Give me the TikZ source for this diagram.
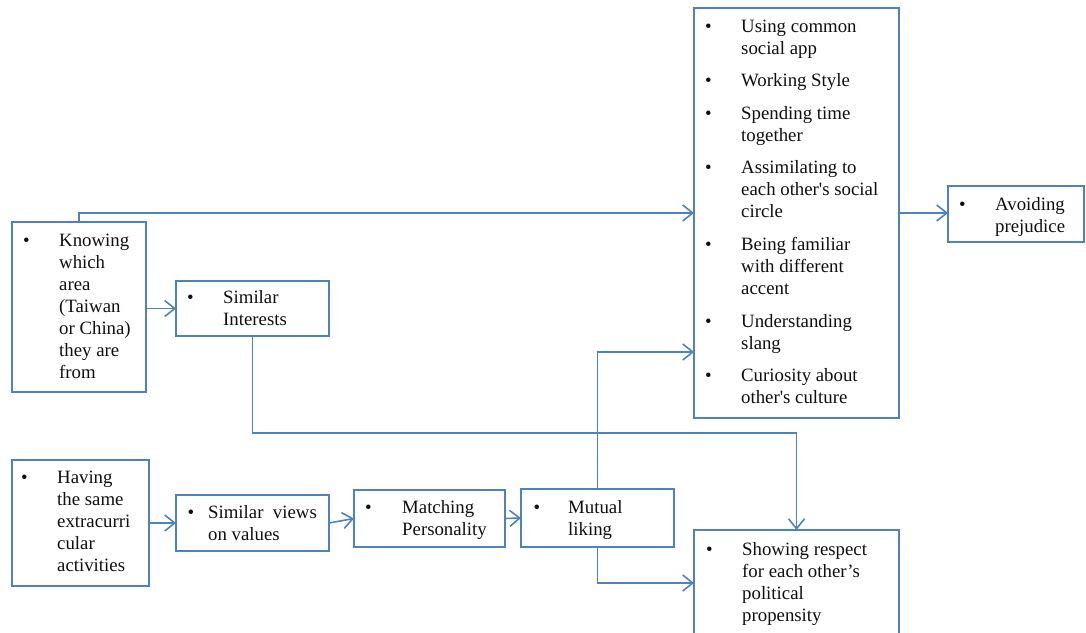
\documentclass[tikz,border=0pt]{standalone}
\usepackage{fontspec}
\setmainfont{Liberation Serif}[Ligatures=TeXOff]
\usetikzlibrary{arrows.meta}

\definecolor{edge}{RGB}{79,129,189}
\definecolor{ink}{RGB}{15,15,15}

% bullet hung in the left margin of an item
\newcommand{\bul}[1][29.5pt]{\leavevmode\llap{\textbullet\hspace{#1}}}
% item text block, first baseline on the node's base anchor
\newcommand{\itemtext}[1]{\parbox[t]{230pt}{\raggedright\setlength{\parskip}{10.4pt}#1}}

\tikzset{
  box/.style={draw=edge, line width=1.7pt, inner sep=0pt, outer sep=0pt,
              anchor=north west, minimum width=#1},
  txt/.style={anchor=base west, inner sep=0pt, text=ink,
              font=\fontsize{18.8}{22.1}\selectfont},
  conn/.style={draw=edge, line width=1.6pt,
               -{Straight Barb[length=10pt,width=16pt]}},
}

\begin{document}
\begin{tikzpicture}[x=1pt,y=-1pt]
\useasboundingbox (0,0) rectangle (1086,632);
\clip (0,0) rectangle (1086,632);

% boxes
\node[box=205pt, minimum height=410pt] (B)  at (694,8)   {};
\node[box=136pt, minimum height=56pt]  (Av) at (948,186) {};
\node[box=134pt, minimum height=170pt] (K)  at (12,222)  {};
\node[box=153pt, minimum height=55pt]  (SI) at (176,281) {};
\node[box=137pt, minimum height=126pt] (H)  at (12,460)  {};
\node[box=153pt, minimum height=56pt]  (SV) at (176,495) {};
\node[box=151pt, minimum height=57pt]  (MP) at (354,490) {};
\node[box=153pt, minimum height=58pt]  (ML) at (521,489) {};
\node[box=205pt, minimum height=106pt] (SR) at (694,530) {};

% texts
\node[txt] (Bt) at (741,32) {\itemtext{%
  \bul Using common\\social app\par
  \bul Working Style\par
  \bul Spending time\\together\par
  \bul Assimilating to\\each other's social\\circle\par
  \bul Being familiar\\with different\\accent\par
  \bul Understanding\\slang\par
  \bul Curiosity about\\other's culture}};
\node[txt] (Avt) at (995,210) {\itemtext{\bul Avoiding\\prejudice}};
\node[txt] (Kt)  at (59,246)  {\itemtext{\bul Knowing\\which\\area\\(Taiwan\\or China)\\they are\\from}};
\node[txt] (SIt) at (223,303) {\itemtext{\bul Similar\\Interests}};
\node[txt] (Ht)  at (57,483)  {\itemtext{\bul Having\\the same\\extracurri\\cular\\activities}};
\node[txt] (SVt) at (208,518) {\itemtext{\bul[14pt]Similar\ \ views\\on values}};
\node[txt] (MPt) at (402,513) {\itemtext{\bul[30.5pt]Matching\\Personality}};
\node[txt] (MLt) at (568,513) {\itemtext{\bul[28pt]Mutual\\liking}};
\node[txt] (SRt) at (742,555) {\itemtext{\bul Showing respect\\for each other’s\\political\\propensity}};

% connector helpers
\coordinate (SIdrop) at (252.5,433);
\coordinate (Bin)    at (694,352);

% connectors
\draw[conn] (K.north) |- (B.west);
\draw[conn] (K.east |- SI.west) -- (SI.west);
\draw[conn] (SI.south) |- (SIdrop) -| (SR.north);
\draw[conn] (H.east) -- (SV.west);
\draw[conn] (SV.east) -- (MP.west);
\draw[conn] (MP.east) -- (ML.west);
\draw[conn] (ML.north) |- (Bin);
\draw[conn] (ML.south) |- (SR.west);
\draw[conn] (B.east) -- (Av.west |- B.east);
\end{tikzpicture}
\end{document}
